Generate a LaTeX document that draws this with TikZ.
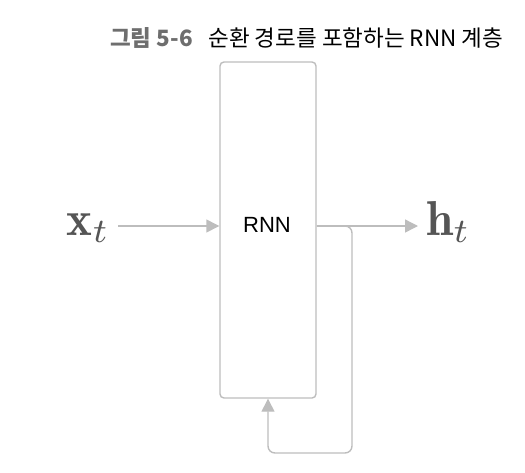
\documentclass[tikz,border=0pt]{standalone}
\usepackage{graphicx}
\usepackage{fontspec}
\newfontfamily\krfont{Noto Sans CJK KR}
\newfontfamily\labelfont{Liberation Sans}
\usetikzlibrary{arrows.meta}
\definecolor{linegray}{HTML}{BDBDBD}
\definecolor{textgray}{HTML}{555555}
\definecolor{titlegray}{HTML}{6E6E6E}
\newcommand{\vecsym}[1]{\scalebox{4.9}{$\mathbf{#1}_t$}}

\begin{document}
\begin{tikzpicture}[
                      x = 1pt, y = -1pt,
           line/.style = {draw=linegray, line width=1.4pt},
          arrow/.style = {line, -{Triangle[length=13pt,width=13pt]}},
          layer/.style = {line, rounded corners=4pt, minimum width=96pt,
                          minimum height=336pt, inner sep=0pt},
            vec/.style = {text=textgray, inner sep=0pt},
                   ]
\useasboundingbox (0,0) rectangle (525,472);
% title
\node[anchor=west, inner sep=0pt, font=\krfont\fontsize{22.5}{26}\selectfont] (title) at (110,38)
    {\textcolor{titlegray}{\bfseries 그림 5-6}\hspace{0.7em}순환 경로를 포함하는 RNN 계층};
% layer
\node[layer] (rnn) at (268,230) {};
\node[font=\labelfont\fontsize{22}{24}\selectfont] (rnntext) at (267,225) {RNN};
\node[vec, anchor=base east] (x) at (110,235) {\vecsym{x}};
\node[vec, anchor=base west] (h) at (426,235) {\vecsym{h}};
\coordinate (xin) at (118,226);
\coordinate (hout) at (418,226);
\coordinate (loop) at (352,453);
% arrows
\draw[arrow] (xin) -- (xin -| rnn.west);
\draw[arrow] (rnn.east |- hout) -- (hout);
\draw[arrow, rounded corners=7pt] (rnn.east |- hout) -| (loop) -| (rnn.south);
\end{tikzpicture}
\end{document}
